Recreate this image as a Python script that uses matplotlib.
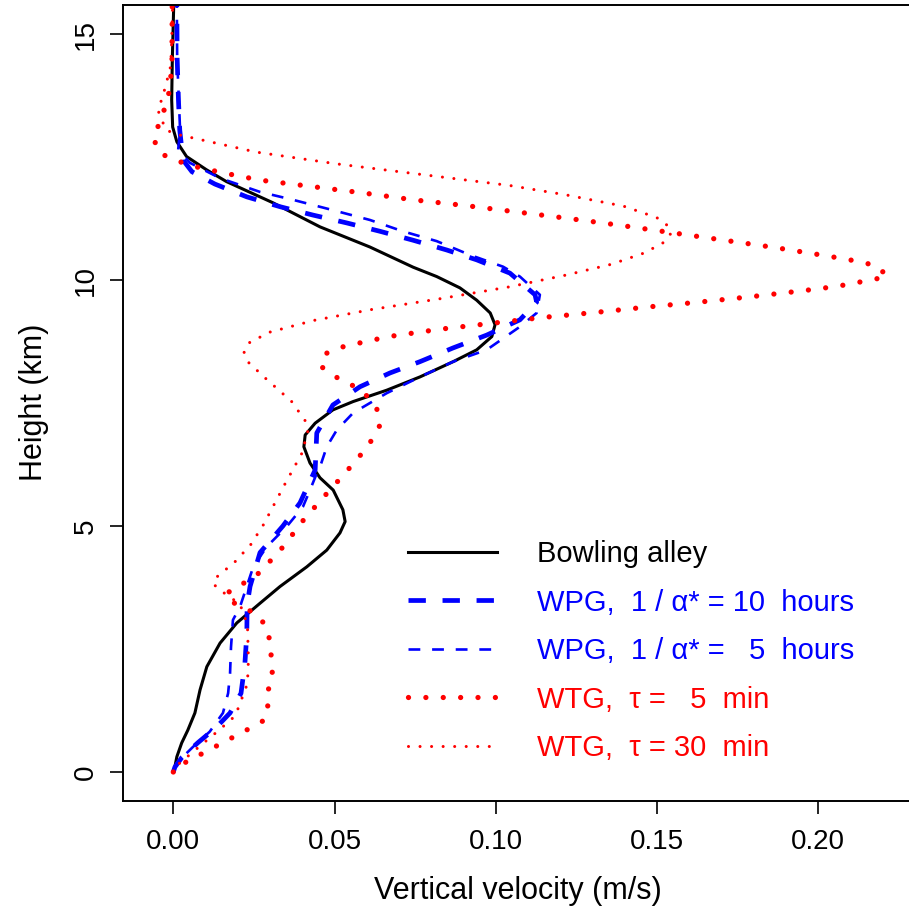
import matplotlib
matplotlib.use("Agg")
import matplotlib.pyplot as plt

plt.rcParams["font.family"] = ["Liberation Sans", "DejaVu Sans"]
plt.rcParams["lines.scale_dashes"] = False

# vertical velocity profiles (m/s) against height (km)
alley_z = [0, 0.11, 0.31, 0.59, 0.85, 1.20, 1.67, 2.14, 2.62, 3.03, 3.43, 3.77, 4.17, 4.51,
           4.86, 5.09, 5.33, 5.73, 5.98, 6.28, 6.61, 6.85, 7.09, 7.36, 7.53, 7.76, 8.03, 8.34,
           8.58, 8.85, 9.09, 9.33, 9.59, 9.84, 10.07, 10.26, 10.67, 11.08, 11.57, 12.0, 12.24,
           12.51, 12.81, 13.11, 13.66, 14.5, 16.5]
alley_w = [0, 0.0005, 0.0011, 0.0026, 0.0045, 0.0067, 0.0083, 0.0104, 0.0145, 0.0197, 0.0269,
           0.0331, 0.0414, 0.0476, 0.0517, 0.0533, 0.0526, 0.0496, 0.0455, 0.0424, 0.0405,
           0.0409, 0.0440, 0.0495, 0.0558, 0.0662, 0.0765, 0.0868, 0.0941, 0.0988, 0.0998,
           0.0983, 0.0941, 0.0889, 0.0817, 0.0744, 0.0610, 0.0455, 0.0309, 0.0165, 0.0103,
           0.0041, 0.0011, -0.0002, -0.0005, -0.0003, 0.0005]

wpg10_z = [0, 0.1, 0.3, 0.6, 0.9, 1.2, 1.6, 2.2, 2.8, 3.4, 3.77, 4.46, 5.0, 5.47, 6.14, 6.89,
           7.46, 7.83, 8.11, 8.34, 8.62, 8.88, 9.19, 9.55, 9.7, 10.14, 10.41, 10.61, 10.81,
           10.99, 11.16, 11.32, 11.49, 11.69, 11.95, 12.2, 12.44, 13.05, 13.66, 14.5, 16.5]
wpg10_w = [0, 0.0005, 0.0027, 0.0077, 0.0132, 0.0176, 0.021, 0.0222, 0.0228, 0.0229, 0.0238,
           0.0269, 0.0340, 0.0393, 0.044, 0.0445, 0.0495, 0.0579, 0.0672, 0.0765, 0.0868,
           0.0972, 0.1075, 0.1127, 0.1122, 0.1044, 0.0941, 0.0848, 0.0743, 0.0641, 0.0538,
           0.0433, 0.0331, 0.0228, 0.0129, 0.0058, 0.003, 0.002, 0.0016, 0.0012, 0.001]

wpg5_z = [0, 0.18, 0.51, 0.82, 1.2, 1.6, 2.0, 2.54, 3.09, 3.36, 4.17, 4.58, 4.99, 5.39, 5.73,
          6.07, 6.2, 6.61, 6.95, 7.3, 7.7, 8.03, 8.34, 8.58, 9.05, 9.33, 9.7, 10.07, 10.27,
          10.51, 10.79, 10.99, 11.22, 11.42, 11.63, 11.79, 12.07, 12.38, 12.64, 13.05, 14.5, 16.5]
wpg5_w = [0, 0.001, 0.0061, 0.0113, 0.0154, 0.0170, 0.0176, 0.0179, 0.0185, 0.0207, 0.0248,
          0.0290, 0.0352, 0.0402, 0.0424, 0.0445, 0.0455, 0.0476, 0.0507, 0.0558, 0.0662,
          0.0765, 0.0868, 0.0972, 0.1075, 0.1127, 0.1137, 0.1075, 0.1023, 0.0920, 0.0817,
          0.0712, 0.0610, 0.0495, 0.0371, 0.0269, 0.0145, 0.0052, 0.0015, 0.0021, 0.0012, 0.001]

wtg5_z = [0, 0.07, 0.23, 0.56, 0.89, 1.06, 1.25, 1.59, 1.91, 2.61, 2.94, 3.21, 3.36, 3.52,
          3.70, 3.86, 4.06, 4.58, 5.14, 5.66, 5.93, 6.19, 6.46, 6.75, 7.05, 7.39, 7.66, 7.87,
          8.02, 8.23, 8.48, 8.62, 8.70, 8.85, 9.0, 9.12, 9.24, 9.34, 9.45, 9.55, 9.66, 9.78,
          9.87, 10.0, 10.07, 10.28, 10.37, 10.49, 10.66, 10.81, 10.96, 11.11, 11.25, 11.38,
          11.51, 11.63, 11.77, 11.90, 12.03, 12.17, 12.32, 12.44, 12.58, 12.89, 13.22, 13.56,
          13.90, 14.5, 16.5]
wtg5_w = [0, 0.0, 0.0048, 0.0143, 0.0238, 0.0284, 0.0294, 0.0290, 0.0308, 0.0301, 0.0290,
          0.0259, 0.0211, 0.0163, 0.0176, 0.0225, 0.0269, 0.0341, 0.0406, 0.0476, 0.0513,
          0.0548, 0.0583, 0.0616, 0.0641, 0.0631, 0.0598, 0.0553, 0.0507, 0.0461, 0.0465,
          0.0512, 0.0564, 0.0668, 0.0827, 0.0988, 0.1148, 0.1308, 0.1469, 0.1630, 0.1791,
          0.1950, 0.2058, 0.2163, 0.2215, 0.2184, 0.2132, 0.2027, 0.1866, 0.1707, 0.1548,
          0.1388, 0.1227, 0.1069, 0.0910, 0.0744, 0.0588, 0.0429, 0.0269, 0.016, 0.0057,
          0.0005, -0.0043, -0.0062, -0.0041, -0.0023, -0.001, -0.0004, -0.0003]

wtg30_z = [0, 0.07, 0.53, 0.83, 1.14, 1.36, 1.80, 2.28, 2.99, 3.41, 3.66, 3.82, 3.97, 4.27,
           4.62, 5.02, 5.85, 6.48, 6.92, 7.14, 7.53, 7.99, 8.32, 8.54, 8.73, 8.94, 9.18, 9.40,
           9.62, 9.86, 10.10, 10.32, 10.55, 10.77, 10.97, 11.14, 11.27, 11.50, 11.73, 11.92,
           12.36, 12.60, 12.96, 13.05, 13.44, 13.89, 14.35, 14.84, 15.59, 16.5]
wtg30_w = [0, 0.0, 0.0083, 0.0138, 0.0192, 0.0205, 0.0230, 0.0233, 0.0230, 0.0207, 0.0153,
           0.0124, 0.0136, 0.0191, 0.0240, 0.0279, 0.0346, 0.0399, 0.0417, 0.0409, 0.0367,
           0.0288, 0.0234, 0.0219, 0.0237, 0.0299, 0.0437, 0.0615, 0.0828, 0.1042, 0.1218,
           0.1359, 0.1461, 0.1523, 0.1546, 0.1528, 0.1499, 0.1397, 0.1218, 0.1044, 0.0507,
           0.0257, 0.0011, -0.0023, -0.0047, -0.0026, -0.0008, -0.0005, -0.0002, -0.0002]

labels = ["Bowling alley",
          "WPG,  1 / \u03b1* = 10  hours",
          "WPG,  1 / \u03b1* =   5  hours",
          "WTG,  \u03c4 =   5  min",
          "WTG,  \u03c4 = 30  min"]

W, H = 909, 915
fig = plt.figure(figsize=(W / 100, H / 100), dpi=100)
ax = fig.add_axes([123 / W, (H - 800.5) / H, (912 - 123) / W, (800.5 - 5) / H])

ax.plot(alley_w, alley_z, color="black", lw=2.2, label=labels[0])
ax.plot(wpg10_w, wpg10_z, color="blue", lw=3.4, dashes=(12.5, 12), label=labels[1])
ax.plot(wpg5_w, wpg5_z, color="blue", lw=1.9, dashes=(8.5, 8.5), label=labels[2])
ax.plot(wtg5_w, wtg5_z, color="red", lw=3.8, dashes=(0.01, 12.5),
        dash_capstyle="round", label=labels[3])
ax.plot(wtg30_w, wtg30_z, color="red", lw=2.2, dashes=(0.01, 8.3),
        dash_capstyle="round", label=labels[4])

ax.set_xlim((123 - 173.3) / 3224, (912 - 173.3) / 3224)
ax.set_ylim(-(800.5 - 772) / 49.2, (772 - 5) / 49.2)

ax.set_xticks([0, 0.05, 0.10, 0.15, 0.20])
ax.set_xticklabels(["0.00", "0.05", "0.10", "0.15", "0.20"])
ax.set_yticks([0, 5, 10, 15])
ax.tick_params(length=9.5, width=1.2, labelsize=20)
ax.tick_params(axis="x", pad=11)
ax.tick_params(axis="y", pad=8)
for t in ax.get_yticklabels():
    t.set_rotation(90)
    t.set_va("center")
for s in ax.spines.values():
    s.set_linewidth(1.4)

ax.set_xlabel("Vertical velocity (m/s)", fontsize=22, labelpad=15)
ax.set_ylabel("Height (km)", fontsize=22, labelpad=17)

ax.legend(loc="upper left", bbox_to_anchor=(408 / W, 1 - 540 / H),
          bbox_transform=fig.transFigure, frameon=False, fontsize=21,
          handlelength=3.05, handletextpad=1.37, labelspacing=0.705, borderpad=0,
          borderaxespad=0, labelcolor="linecolor")

fig.savefig("out.png", dpi=100)
